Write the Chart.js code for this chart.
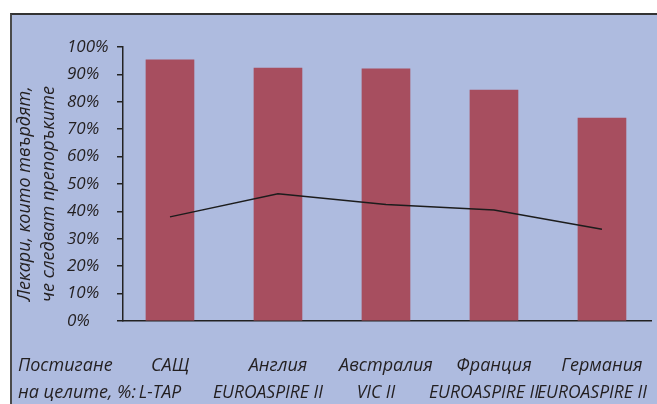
<!DOCTYPE html>
<html>
<head>
<meta charset="utf-8">
<script src="https://cdn.jsdelivr.net/npm/chart.js@4.4.1/dist/chart.umd.min.js"></script>
<style>
  html, body { margin: 0; padding: 0; background: #fff; }
  body { position: relative; width: 657px; height: 404px; overflow: hidden; }
  #frame {
    position: absolute; left: 10px; top: 13px; width: 700px; height: 440px;
    background: #aebbdf; border-left: 2px solid #4a4a4a; border-top: 2px solid #333;
  }
  #chart { position: absolute; left: 0; top: 0; }
</style>
</head>
<body>
<div id="frame"></div>
<canvas id="chart" width="657" height="404"></canvas>
<script>
// Chart data
const countries = ['САЩ', 'Англия', 'Австралия', 'Франция', 'Германия'];
const studies = ['L-TAP', 'EUROASPIRE II', 'VIC II', 'EUROASPIRE II', 'EUROASPIRE II'];
const physiciansFollowing = [95.3, 92.3, 92.0, 84.3, 74.1];
const goalsReached = [38, 46.4, 42.5, 40.5, 33.5];
const rowHeader = ['Постигане', 'на целите, %:'];
const yTitle = ['Лекари, които твърдят,', 'че следват препоръките'];

const textColor = '#231f20';
const fontFamily = '"Open Sans", "Noto Sans", sans-serif';

// y title and row header are drawn next to the axes
const sideText = {
    id: 'sideText',
    afterDraw(chart) {
        const { ctx, chartArea, scales: { x, x2 } } = chart;
        ctx.save();
        ctx.fillStyle = textColor;
        ctx.font = 'italic 18px ' + fontFamily;
        ctx.textBaseline = 'middle';
        ctx.textAlign = 'left';
        ctx.fillText(rowHeader[0], 18, x.top + 31 + 13.5);
        ctx.fillText(rowHeader[1], 18, x2.top + 14);

        ctx.translate(0, (chartArea.top + chartArea.bottom) / 2 + 10);
        ctx.rotate(-Math.PI / 2);
        ctx.textAlign = 'center';
        yTitle.forEach((t, i) => ctx.fillText(t, 0, 25 + 24 * i));
        ctx.restore();
    }
};

const setTicks = (s) => { s.ticks = countries.map((c, i) => ({ value: i })); };

function draw() {
    const ctx = document.getElementById('chart').getContext('2d');
    new Chart(ctx, {
        type: 'bar',
        data: {
            datasets: [
                {
                    type: 'line',
                    data: goalsReached.map((v, i) => ({ x: i, y: v })),
                    borderColor: '#1c1c1c',
                    borderWidth: 1.5,
                    pointRadius: 0,
                    tension: 0,
                    order: 0
                },
                {
                    data: physiciansFollowing.map((v, i) => ({ x: i, y: v })),
                    backgroundColor: '#a74e5f',
                    barThickness: 48,
                    order: 1
                }
            ]
        },
        options: {
            responsive: false,
            animation: false,
            layout: { padding: { left: 67, right: 6, top: 47, bottom: 0 } },
            plugins: {
                legend: { display: false },
                tooltip: { enabled: false }
            },
            scales: {
                x: {
                    type: 'linear',
                    offset: false,
                    weight: 0,
                    min: -0.435,
                    max: 4.454,
                    afterBuildTicks: setTicks,
                    afterFit: (s) => { s.height = 58; s.paddingLeft = 0; s.paddingRight = 0; },
                    grid: { display: false, drawTicks: false },
                    border: { display: true, color: '#222', width: 1.5 },
                    ticks: {
                        autoSkip: false,
                        maxRotation: 0,
                        padding: 31,
                        color: textColor,
                        font: { family: fontFamily, size: 18, style: 'italic', lineHeight: 1.5 },
                        callback: (v) => countries[v]
                    }
                },
                // second label row: study names
                x2: {
                    type: 'linear',
                    position: 'bottom',
                    offset: false,
                    weight: 1,
                    min: -0.435,
                    max: 4.454,
                    afterBuildTicks: setTicks,
                    afterFit: (s) => { s.height = 25; s.paddingLeft = 0; s.paddingRight = 0; },
                    grid: { display: false, drawTicks: false },
                    border: { display: false },
                    ticks: {
                        autoSkip: false,
                        maxRotation: 0,
                        padding: 0,
                        labelOffset: -10,
                        color: textColor,
                        font: { family: fontFamily, size: 17.5, style: 'italic', lineHeight: 1.6 },
                        callback: (v) => studies[v]
                    }
                },
                y: {
                    min: 0,
                    max: 100,
                    afterFit: (s) => { s.width = 56; },
                    grid: { display: true, drawOnChartArea: false, drawTicks: true, tickLength: 6, color: '#222', lineWidth: 1.5 },
                    border: { display: true, color: '#222', width: 1.5 },
                    ticks: {
                        stepSize: 10,
                        crossAlign: 'far',
                        padding: 8,
                        color: textColor,
                        font: { family: fontFamily, size: 17, style: 'italic' },
                        callback: (v) => v + '%'
                    }
                }
            }
        },
        plugins: [sideText]
    });
}

document.fonts.load('italic 18px "Open Sans"').then(draw, draw);
</script>
</body>
</html>
